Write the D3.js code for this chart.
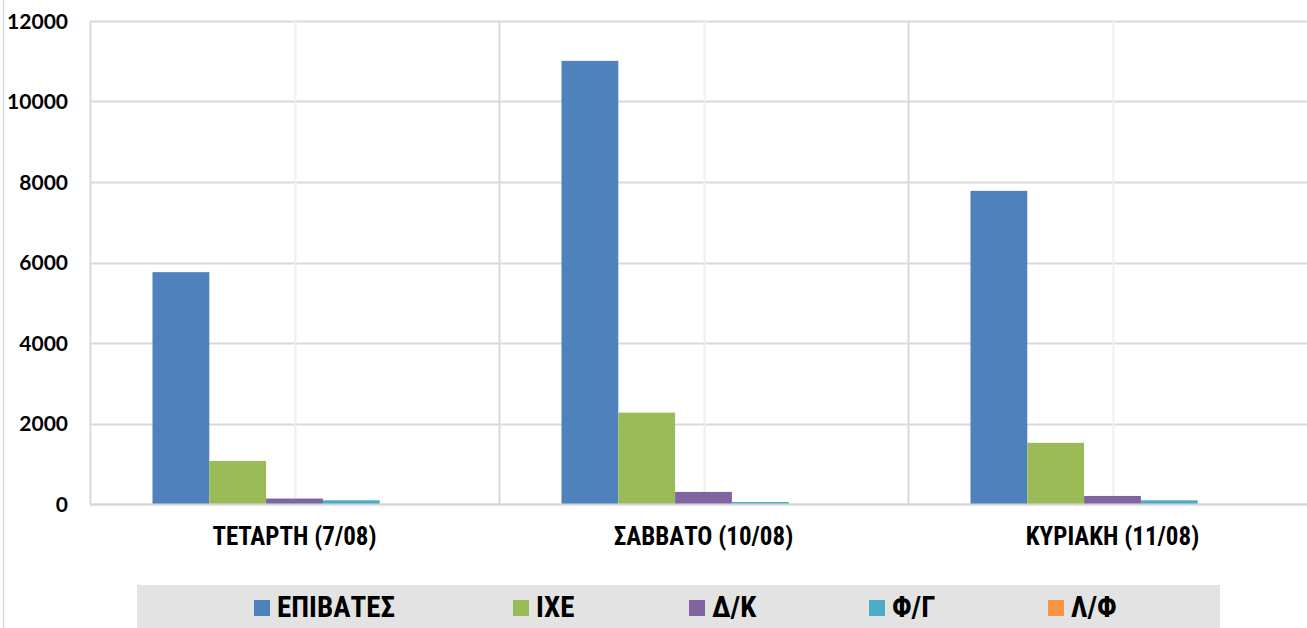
<!DOCTYPE html>
<html><head><meta charset="utf-8">
<script src="https://cdn.jsdelivr.net/npm/d3@7"></script>
<style>
body{margin:0;background:#fff;}
svg{display:block;}
</style></head>
<body><svg id="chart" width="1307" height="628"></svg>
<script>
const categories = ["ΤΕΤΑΡΤΗ (7/08)", "ΣΑΒΒΑΤΟ (10/08)", "ΚΥΡΙΑΚΗ (11/08)"];
const seriesNames = ["ΕΠΙΒΑΤΕΣ", "ΙΧΕ", "Δ/Κ", "Φ/Γ", "Λ/Φ"];
const epivates = [5760, 11010, 7780];
const ixe = [1070, 2270, 1520];
const dk = [135, 300, 200];
const fg = [92, 50, 92];
const lf = [3, 2, 2];
const yTicks = [0, 2000, 4000, 6000, 8000, 10000, 12000];
const colors = ["#4F81BD", "#9BBB59", "#8064A2", "#4BACC6", "#F79646"];

const seriesValues = [epivates, ixe, dk, fg, lf];
const svg = d3.select("#chart");
const m = {l: 90, t: 21, r: 1317, b: 504};
const narrow = "'Liberation Sans Narrow', 'Roboto Condensed', 'Liberation Sans', sans-serif";

// outer chart border
svg.append("line").attr("x1", 3.5).attr("x2", 3.5).attr("y1", 0).attr("y2", 628)
  .attr("stroke", "#d9d9d9").attr("stroke-width", 1.5);

const x0 = d3.scaleBand().domain(categories).range([m.l, m.r]).paddingInner(0).paddingOuter(0);
const x1 = d3.scaleBand().domain(seriesNames).range([0, x0.bandwidth()]).paddingOuter(1.1).paddingInner(0);
const y = d3.scaleLinear().domain([0, 12000]).range([m.b, m.t]);

// horizontal gridlines
svg.append("g").selectAll("line").data(yTicks).join("line")
  .attr("x1", m.l).attr("x2", m.r)
  .attr("y1", d => Math.round(y(d)) + 0.5).attr("y2", d => Math.round(y(d)) + 0.5)
  .attr("stroke", "#d9d9d9").attr("stroke-width", 2);

// vertical gridlines: boundaries and mid lines
const bounds = categories.map(c => x0(c)).concat([m.r]);
svg.append("g").selectAll("line").data(bounds).join("line")
  .attr("x1", d => Math.round(d) + 0.5).attr("x2", d => Math.round(d) + 0.5)
  .attr("y1", m.t).attr("y2", m.b)
  .attr("stroke", "#d9d9d9").attr("stroke-width", 2);
svg.append("g").selectAll("line").data(categories).join("line")
  .attr("x1", d => Math.round(x0(d) + x0.bandwidth() / 2) + 0.5)
  .attr("x2", d => Math.round(x0(d) + x0.bandwidth() / 2) + 0.5)
  .attr("y1", m.t).attr("y2", m.b)
  .attr("stroke", "#efefef").attr("stroke-width", 2);

// bars
const groups = svg.append("g").selectAll("g").data(categories).join("g")
  .attr("transform", c => `translate(${x0(c)},0)`);
groups.selectAll("rect")
  .data((c, ci) => seriesNames.map((s, si) => ({s, si, v: seriesValues[si][ci]})))
  .join("rect")
  .attr("x", d => x1(d.s))
  .attr("width", x1.bandwidth())
  .attr("y", d => y(d.v))
  .attr("height", d => y(0) - y(d.v))
  .attr("fill", d => colors[d.si]);

// re-draw baseline over bars
svg.append("line").attr("x1", m.l).attr("x2", m.r)
  .attr("y1", Math.round(y(0)) + 0.5).attr("y2", Math.round(y(0)) + 0.5)
  .attr("stroke", "#d9d9d9").attr("stroke-width", 2);

// y axis labels
const yAxis = d3.axisLeft(y).tickValues(yTicks).tickSize(0).tickPadding(0).tickFormat(d3.format("d"));
const ya = svg.append("g").attr("transform", `translate(${m.l - 22},0)`).call(yAxis);
ya.select(".domain").remove();
ya.selectAll("text").attr("font-family", "Lato, 'Open Sans', sans-serif")
  .attr("font-weight", "bold").attr("font-size", 21).attr("fill", "#000").attr("dy", "0.34em");

// x axis labels
const xAxis = d3.axisBottom(x0).tickSize(0).tickPadding(0);
const xa = svg.append("g").attr("transform", `translate(0,545)`).call(xAxis);
xa.select(".domain").remove();
xa.selectAll("text").attr("font-family", narrow).attr("y", 0)
  .attr("font-weight", "bold").attr("font-size", 25).attr("fill", "#000").attr("dy", "0");

// legend
svg.append("rect").attr("x", 137).attr("y", 585).attr("width", 1083).attr("height", 43).attr("fill", "#e3e3e3");
const legendX = [254, 513, 689, 869, 1048];
const lg = svg.append("g").selectAll("g").data(seriesNames).join("g")
  .attr("transform", (d, i) => `translate(${legendX[i]},600)`);
lg.append("rect").attr("width", 16).attr("height", 16).attr("fill", (d, i) => colors[i]);
lg.append("text").attr("x", 23).attr("y", 17).text(d => d)
  .attr("font-family", narrow)
  .attr("font-weight", "bold").attr("font-size", 29).attr("fill", "#000");
</script>
</body></html>
